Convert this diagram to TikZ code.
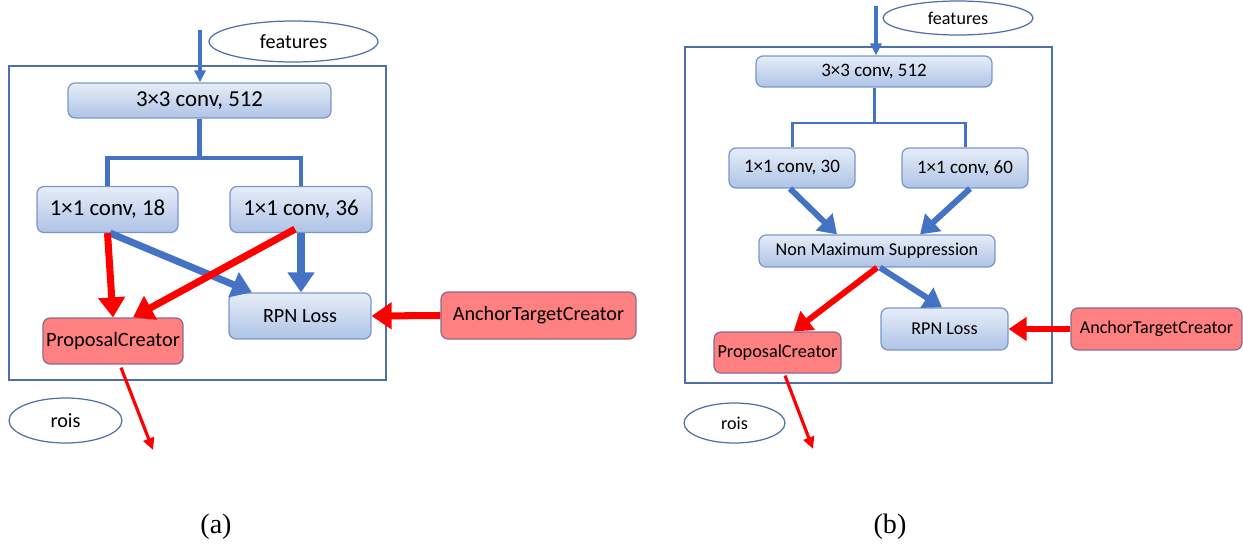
\documentclass[tikz,border=0pt]{standalone}
\usepackage{fontspec}
\setmainfont{Carlito}
\newfontfamily\capfont{Liberation Serif}
\usepackage{tikz}
\usetikzlibrary{arrows.meta,shapes.geometric}

\begin{document}
\begin{tikzpicture}[x=0.02cm, y=-0.02cm,
  box/.style={rounded corners=4pt, draw=boxline, top color=boxtop, bottom color=boxbot, line width=0.7pt, inner sep=0pt},
  redbox/.style={rounded corners=4pt, draw=redline, fill=redfill, line width=0.7pt, inner sep=0pt},
  oval/.style={ellipse, draw=frameline, line width=0.7pt, inner sep=0pt},
  fontA/.style={font=\fontsize{11.5}{13}\selectfont},
  convA/.style={font=\fontsize{13}{15}\selectfont},
  fontB/.style={font=\fontsize{10.3}{12}\selectfont},
  convB/.style={font=\fontsize{10.8}{12}\selectfont},
  forkA/.style={draw=blueline, line width=2.3pt},
  forkB/.style={draw=blueline, line width=1.7pt},
  fatA/.style={line width=4pt, -{Triangle[length=0.4cm, width=0.52cm]}},
  fatB/.style={line width=3.4pt, -{Triangle[length=0.36cm, width=0.46cm]}},
  feed/.style={line width=1.8pt, -{Triangle[length=0.24cm, width=0.22cm]}}]

\definecolor{boxline}{HTML}{7A96C8}
\definecolor{boxtop}{HTML}{E6EDF8}
\definecolor{boxbot}{HTML}{AEC3E6}
\definecolor{redline}{HTML}{8C6A8A}
\definecolor{redfill}{HTML}{FF8080}
\definecolor{frameline}{HTML}{4F6FA8}
\definecolor{blueline}{HTML}{4472C4}
\definecolor{redarrow}{HTML}{FF0000}

\useasboundingbox (0,0) rectangle (1243,544);

% (a)
\draw[frameline, line width=0.7pt] (9,66) rectangle (386,380);
\node[oval, fontA, minimum width=3.38cm, minimum height=0.82cm] (feat_a) at (293.5,41.5) {features};
\node[box, convA, minimum width=5.26cm, minimum height=0.70cm] (conv3_a) at (199.5,100.5) {3×3 conv, 512};
\node[box, convA, minimum width=2.82cm, minimum height=0.92cm] (c18) at (107.5,209.5) {1×1 conv, 18};
\node[box, convA, minimum width=2.84cm, minimum height=0.92cm] (c36) at (301,209.5) {1×1 conv, 36};
\node[box, fontA, minimum width=2.84cm, minimum height=0.92cm] (loss_a) at (300,316) {RPN Loss};
\node[redbox, font=\fontsize{11.6}{13}\selectfont, minimum width=2.80cm, minimum height=0.92cm] (prop_a) at (113,341) {ProposalCreator};
\node[redbox, fontA, minimum width=3.90cm, minimum height=0.94cm] (anchor_a) at (538.5,315.5) {AnchorTargetCreator};
\node[oval, fontA, minimum width=2.26cm, minimum height=0.90cm] (rois_a) at (65.5,420.5) {rois};
\node[font=\capfont\fontsize{16}{18}\selectfont] (cap_a) at (216,527) {(a)};

\coordinate (in_a) at (200,30);
\coordinate (bar_a) at (199.5,158);
\coordinate (out_a) at (153,450);

\draw[feed, blueline] (in_a) -- (in_a |- conv3_a.north);
\draw[forkA] (conv3_a.south) -- (conv3_a.south |- bar_a);
\draw[forkA] (c18.north) |- (bar_a) -| (c36.north);
\draw[fatA, blueline] ([xshift=0.05cm]c18.south) -- ([xshift=-0.96cm]loss_a.north);
\draw[fatA, blueline] (c36.south) -- (c36.south |- loss_a.north);
\draw[fatA, redarrow] (c18.south) -- (prop_a.north);
\draw[fatA, redarrow] ([xshift=-0.12cm, yshift=0.08cm]c36.south) -- ([xshift=0.4cm]prop_a.north);
\draw[fatA, redarrow] (anchor_a.west) -- (loss_a.east);
\draw[feed, redarrow] ([xshift=0.16cm, yshift=-0.06cm]prop_a.south) -- (out_a);

% (b)
\draw[frameline, line width=0.7pt] (685,47) rectangle (1052,383);
\node[oval, fontB, minimum width=3.0cm, minimum height=0.68cm] (feat_b) at (958,18) {features};
\node[box, convB, minimum width=4.72cm, minimum height=0.62cm] (conv3_b) at (874,71.5) {3×3 conv, 512};
\node[box, convB, minimum width=2.52cm, minimum height=0.80cm] (c30) at (792,168) {1×1 conv, 30};
\node[box, convB, minimum width=2.52cm, minimum height=0.80cm] (c60) at (965,168) {1×1 conv, 60};
\node[box, fontB, minimum width=4.72cm, minimum height=0.64cm] (nms) at (877,251) {Non Maximum Suppression};
\node[box, fontB, minimum width=2.54cm, minimum height=0.84cm] (loss_b) at (944.5,329) {RPN Loss};
\node[redbox, font=\fontsize{10.4}{12}\selectfont, minimum width=2.54cm, minimum height=0.82cm] (prop_b) at (777.5,352.5) {ProposalCreator};
\node[redbox, fontB, minimum width=3.42cm, minimum height=0.84cm] (anchor_b) at (1156.5,329) {AnchorTargetCreator};
\node[oval, fontB, minimum width=2.02cm, minimum height=0.80cm] (rois_b) at (734.5,423) {rois};
\node[font=\capfont\fontsize{16}{18}\selectfont] (cap_b) at (890,527) {(b)};

\coordinate (in_b) at (876,6);
\coordinate (bar_b) at (874,123);
\coordinate (out_b) at (813,449);

\draw[feed, blueline] (in_b) -- (in_b |- conv3_b.north);
\draw[forkB] (conv3_b.south) -- (bar_b);
\draw[forkB] (c30.north) |- (bar_b) -| (c60.north);
\draw[fatB, blueline] ([xshift=-0.04cm]c30.south) -- ([xshift=-0.80cm]nms.north);
\draw[fatB, blueline] ([xshift=0.10cm]c60.south) -- ([xshift=0.86cm]nms.north);
\draw[fatB, blueline] ([xshift=0.06cm]nms.south) -- ([xshift=-0.05cm]loss_b.north);
\draw[fatB, redarrow] (nms.south) -- ([xshift=0.32cm]prop_b.north);
\draw[fatB, redarrow] (anchor_b.west) -- (loss_b.east);
\draw[feed, redarrow] ([xshift=0.15cm, yshift=-0.04cm]prop_b.south) -- (out_b);

\end{tikzpicture}
\end{document}
